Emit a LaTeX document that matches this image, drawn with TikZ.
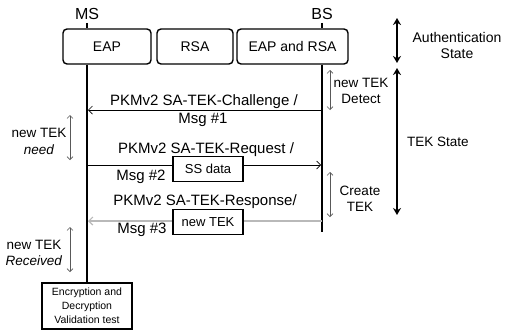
\documentclass[tikz,border=0pt]{standalone}
\usepackage{fontspec}
\setmainfont{Liberation Sans}
\usetikzlibrary{arrows.meta,positioning}

\tikzset{
  phase/.style={draw, rounded corners=4pt, line width=1.4pt, minimum height=35pt,
    font=\fontsize{14}{16}\selectfont},
  databox/.style={draw, fill=white, line width=1.4pt, minimum width=70pt,
    minimum height=25pt, inner sep=1pt, font=\fontsize{13}{15}\selectfont},
  lifeline/.style={line width=1.8pt},
  msg/.style={line width=0.7pt, -{Straight Barb[length=4pt,width=8pt]}, shorten >=1pt},
  span/.style={draw=gray!70!black, line width=0.6pt,
    {Straight Barb[length=3pt,width=6pt]}-{Straight Barb[length=3pt,width=6pt]}},
  statearrow/.style={line width=2pt,
    {Stealth[length=7pt,width=8pt]}-{Stealth[length=7pt,width=8pt]}},
  lbl/.style={inner sep=0pt, font=\fontsize{15}{17}\selectfont},
  note/.style={inner sep=0pt, align=center, font=\fontsize{13.5}{16.5}\selectfont},
}

\begin{document}
\begin{tikzpicture}[x=1pt,y=-1pt]
	\useasboundingbox (0,0) rectangle (505,330);

	% 1. the two stations and their phase boxes
	\node [inner sep=0pt, font=\fontsize{16}{18}\selectfont] (ms) at (87,14) {MS};
	\node [inner sep=0pt, font=\fontsize{16}{18}\selectfont] (bs) at (322,14) {BS};

	\node [phase, minimum width=88pt] (eap) at (107,46.5) {EAP};
	\node [phase, minimum width=76pt] (rsa) at (195,46.5) {RSA};
	\node [phase, minimum width=111pt] (both) at (292.5,46.5) {EAP and RSA};

	% box at the bottom of the MS line
	\node [draw, line width=1.4pt, minimum width=90pt, minimum height=46pt, inner sep=1pt,
		align=center, font=\fontsize{10.5}{14}\selectfont] (enc) at (87,306)
		{Encryption and\\Decryption\\Validation test};

	% 2. life lines
	\coordinate (bsend) at (322,232);
	\draw [lifeline] ([yshift=-3pt]ms.south) -- (eap.north -| ms);
	\draw [lifeline] (eap.south -| ms) -- (enc.north);
	\draw [lifeline] ([yshift=-3pt]bs.south) -- (both.north -| bs);
	\draw [lifeline] (both.south -| bs) -- (bsend);

	% 3. messages
	\coordinate (m1) at (0,110);
	\coordinate (m2) at (0,165);
	\coordinate (m3) at (0,221);
	\draw [msg] (m1 -| bs) -- (m1 -| ms);
	\draw [msg] (m2 -| ms) -- (m2 -| bs);
	\draw [msg, draw=gray!55, line width=1.2pt] (m3 -| bs) -- (m3 -| ms);

	\node [lbl] (m1top) at (204,102) {PKMv2 SA-TEK-Challenge /};
	\node [lbl] (m1bot) at (203,120) {Msg \#1};
	\node [lbl] (m2top) at (206,150) {PKMv2 SA-TEK-Request /};
	\node [lbl] (m2bot) at (141,177) {Msg \#2};
	\node [lbl] (m3top) at (205,202) {PKMv2 SA-TEK-Response/};
	\node [lbl] (m3bot) at (142,230) {Msg \#3};

	% data carried on the messages
	\node [databox] (ss) at (208,169) {SS data};
	\node [databox] (tek) at (208,222) {new TEK};

	% 4. small spans beside the life lines
	\coordinate (d1) at (330,70);  \coordinate (d2) at (330,110);
	\coordinate (c1) at (330,172); \coordinate (c2) at (330,217);
	\coordinate (n1) at (70,115);  \coordinate (n2) at (70,160);
	\coordinate (r1) at (70,227);  \coordinate (r2) at (70,272);
	\draw [span] (d1) -- (d2);
	\draw [span] (c1) -- (c2);
	\draw [span] (n1) -- (n2);
	\draw [span] (r1) -- (r2);

	\node [note] (detect) at (361,91) {new TEK\\Detect};
	\node [note] (create) at (360,199) {Create\\TEK};
	\node [note] (need) at (39,141.5) {new TEK\\\textit{need}};
	\node [note] (recv) at (34,253) {new TEK\\\textit{Received}};

	% 5. states on the right
	\coordinate (a1) at (397,18);  \coordinate (a2) at (397,63);
	\coordinate (t1) at (397,68);  \coordinate (t2) at (397,215);
	\draw [statearrow] (a1) -- (a2);
	\draw [statearrow] (t1) -- (t2);

	\node [note, font=\fontsize{14}{16}\selectfont] (auth) at (457,45) {Authentication\\State};
	\node [note, anchor=west] (tekstate) at (407,142) {TEK State};
\end{tikzpicture}
\end{document}
